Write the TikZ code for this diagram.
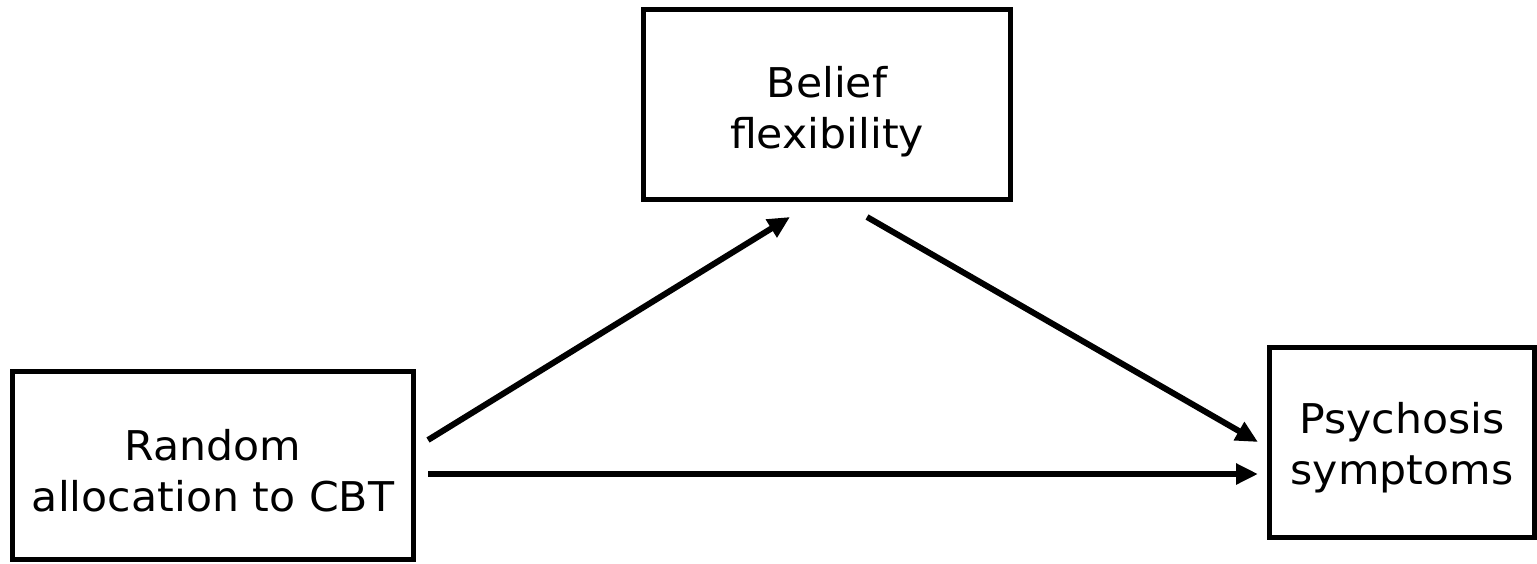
\documentclass[tikz,border=0pt]{standalone}
\usepackage{fontspec}
\setmainfont{DejaVu Sans}[FakeStretch=1.04]
\usetikzlibrary{arrows.meta}
% fixed top and bottom of a two-line label
\newcommand\topstrut[1]{\rule{0pt}{#1}}
\newcommand\botstrut{\rule[-6pt]{0pt}{0pt}}
\begin{document}
\begin{tikzpicture}[x=0.5pt,y=-0.5pt,
  varbox/.style={draw=black, line width=2.5pt, rectangle, align=center,
    inner sep=0pt, font=\fontsize{20.5}{25.5}\selectfont},
  arr/.style={line width=3pt, -{Triangle[length=11pt,width=10pt]}}]
\useasboundingbox (0,0) rectangle (1537,563);
% the three variables
\node[varbox, minimum width=200.5pt, minimum height=94pt] (cbt) at (213,465.5)
  {\topstrut{26pt}Random\\allocation to CBT\botstrut};
\node[varbox, minimum width=183.5pt, minimum height=95pt] (belief) at (827,104.5)
  {\topstrut{24pt}Belief\\flexibility\botstrut};
\node[varbox, minimum width=132.5pt, minimum height=95pt] (psy) at (1402,442.5)
  {\topstrut{22pt}Psychosis\\symptoms\botstrut};
% end points of the paths
\coordinate (cbtUp) at (428,440);
\coordinate (cbtMid) at (428,474);
\coordinate (beliefIn) at (790,217);
\coordinate (beliefOut) at (867,217);
\coordinate (psyUp) at (1258,442);
\coordinate (psyMid) at (1258,474);
% a, b and c paths
\draw[arr] (cbtUp) -- (beliefIn);
\draw[arr] (beliefOut) -- (psyUp);
\draw[arr] (cbtMid) -- (psyMid);
\end{tikzpicture}
\end{document}
